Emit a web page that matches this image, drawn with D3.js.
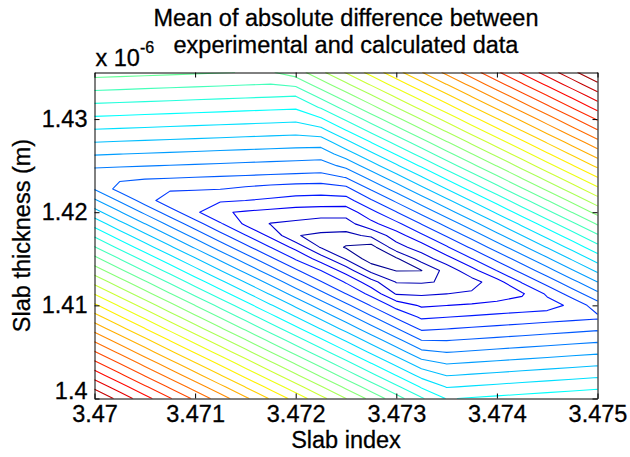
<!DOCTYPE html>
<html>
<head>
<meta charset="utf-8">
<script src="https://cdn.jsdelivr.net/npm/d3@7"></script>
<style>
  html, body { margin: 0; padding: 0; background: #fff; }
  svg { display: block; }
  text { font-family: "Liberation Sans", Arial, Helvetica, sans-serif; fill: #000; }
</style>
</head>
<body>
<svg id="chart" width="630" height="457"></svg>
<script>
// ---- data ----
const titleLines = ["Mean of absolute difference between", "experimental and calculated data"];
const xLabel = "Slab index";
const yLabel = "Slab thickness (m)";

// grid of slab index values (columns)
const xGrid = [3.47, 3.47025, 3.4705, 3.47075, 3.471, 3.47125, 3.4715, 3.47175, 3.472, 3.47225,
               3.4725, 3.47275, 3.473, 3.47325, 3.4735, 3.47375, 3.474, 3.47425, 3.4745, 3.47475, 3.475];
// grid of slab thickness values (rows), in units of 1e-6 m, bottom first
const yGrid = [1.4, 1.40125, 1.4025, 1.40375, 1.405, 1.40625, 1.4075, 1.40875, 1.41, 1.41125,
               1.4125, 1.41375, 1.415, 1.41625, 1.4175, 1.41875, 1.42, 1.42125, 1.4225, 1.42375,
               1.425, 1.42625, 1.4275, 1.42875, 1.43, 1.43125, 1.4325, 1.43375, 1.435];

// mean absolute difference (arbitrary units), one row per thickness value, bottom row first
const zRow00 = [29.97, 28.67, 27.37, 26.08, 24.78, 23.49, 22.19, 20.89, 19.60, 18.30, 17.01, 15.71, 14.41, 13.12, 11.94, 12.08, 12.22, 12.36, 12.50, 12.65, 12.79];
const zRow01 = [28.74, 27.45, 26.15, 24.85, 23.56, 22.26, 20.97, 19.67, 18.37, 17.08, 15.78, 14.49, 13.19, 11.89, 10.94, 11.08, 11.23, 11.37, 11.51, 11.65, 11.79];
const zRow02 = [27.52, 26.22, 24.93, 23.63, 22.33, 21.04, 19.74, 18.45, 17.15, 15.85, 14.56, 13.26, 11.97, 10.67, 9.95, 10.09, 10.23, 10.38, 10.52, 10.66, 10.80];
const zRow03 = [26.29, 25.00, 23.70, 22.41, 21.11, 19.82, 18.52, 17.22, 15.93, 14.63, 13.34, 12.04, 10.74, 9.45, 8.96, 9.10, 9.24, 9.38, 9.52, 9.66, 9.81];
const zRow04 = [25.07, 23.78, 22.48, 21.18, 19.89, 18.59, 17.30, 16.00, 14.70, 13.41, 12.11, 10.81, 9.52, 8.22, 7.96, 8.10, 8.25, 8.39, 8.53, 8.67, 8.81];
const zRow05 = [23.85, 22.55, 21.26, 19.96, 18.66, 17.37, 16.07, 14.78, 13.48, 12.18, 10.89, 9.59, 8.30, 7.00, 6.97, 7.11, 7.25, 7.39, 7.54, 7.68, 7.82];
const zRow06 = [22.62, 21.33, 20.03, 18.74, 17.44, 16.14, 14.85, 13.55, 12.26, 10.96, 9.66, 8.37, 7.07, 5.83, 5.97, 6.12, 6.26, 6.40, 6.54, 6.68, 6.83];
const zRow07 = [21.40, 20.10, 18.81, 17.51, 16.22, 14.92, 13.62, 12.33, 11.03, 9.74, 8.44, 7.14, 5.85, 4.84, 4.98, 5.12, 5.27, 5.41, 5.55, 5.69, 5.83];
const zRow08 = [20.18, 18.88, 17.58, 16.29, 14.99, 13.70, 12.40, 11.10, 9.81, 8.51, 7.22, 5.92, 4.63, 3.85, 3.99, 4.13, 4.27, 4.41, 4.55, 5.25, 6.54];
const zRow09 = [18.95, 17.66, 16.36, 15.06, 13.77, 12.47, 11.18, 9.88, 8.58, 7.29, 5.99, 4.70, 2.90, 2.85, 2.99, 3.14, 3.50, 3.88, 5.17, 6.47, 7.77];
const zRow10 = [17.73, 16.43, 15.14, 13.84, 12.54, 11.25, 9.95, 8.66, 7.36, 6.07, 4.90, 3.40, 1.95, 1.90, 2.10, 2.60, 3.60, 5.10, 6.40, 7.69, 8.99];
const zRow11 = [16.50, 15.21, 13.91, 12.62, 11.32, 10.02, 8.73, 7.43, 6.14, 5.00, 3.54, 1.70, 0.95, 0.98, 2.40, 3.65, 5.03, 6.33, 7.62, 8.92, 10.21];
const zRow12 = [15.28, 13.99, 12.69, 11.39, 10.10, 8.80, 7.51, 6.21, 4.91, 3.55, 1.90, 0.50, 0.85, 2.45, 3.60, 4.96, 6.25, 7.55, 8.85, 10.14, 11.44];
const zRow13 = [14.06, 12.76, 11.46, 10.17, 8.87, 7.58, 6.28, 4.99, 3.69, 1.90, 0.90, 0.60, 2.60, 3.50, 4.89, 6.18, 7.48, 8.77, 10.07, 11.36, 12.66];
const zRow14 = [12.83, 11.54, 10.24, 8.95, 7.65, 6.35, 5.06, 3.76, 2.05, 1.80, 1.70, 2.20, 3.52, 4.81, 6.11, 7.40, 8.70, 10.00, 11.29, 12.59, 13.88];
const zRow15 = [11.61, 10.31, 9.02, 7.72, 6.43, 5.13, 3.83, 2.95, 2.80, 2.60, 2.60, 3.70, 4.74, 6.04, 7.33, 8.63, 9.92, 11.22, 12.52, 13.81, 15.11];
const zRow16 = [10.39, 9.09, 7.80, 6.50, 5.20, 4.10, 3.90, 3.70, 3.50, 3.40, 3.40, 4.70, 5.96, 7.26, 8.56, 9.85, 11.15, 12.44, 13.74, 15.04, 16.33];
const zRow17 = [9.16, 7.87, 6.57, 5.28, 5.20, 5.13, 5.00, 4.85, 4.70, 4.65, 4.60, 5.89, 7.19, 8.49, 9.78, 11.08, 12.37, 13.67, 14.96, 16.26, 17.56];
const zRow18 = [7.94, 6.64, 6.24, 6.17, 6.10, 6.03, 5.80, 5.60, 5.45, 5.40, 5.70, 7.12, 8.41, 9.71, 11.00, 12.30, 13.60, 14.89, 16.19, 17.48, 18.78];
const zRow19 = [7.28, 7.21, 7.14, 7.07, 7.00, 6.93, 6.86, 6.79, 6.72, 6.65, 7.04, 8.34, 9.64, 10.93, 12.23, 13.52, 14.82, 16.12, 17.41, 18.71, 20.00];
const zRow20 = [8.18, 8.11, 8.04, 7.97, 7.90, 7.83, 7.76, 7.69, 7.62, 7.55, 8.27, 9.56, 10.86, 12.15, 13.45, 14.75, 16.04, 17.34, 18.63, 19.93, 21.23];
const zRow21 = [9.09, 9.01, 8.94, 8.87, 8.80, 8.73, 8.66, 8.59, 8.52, 8.45, 9.49, 10.79, 12.08, 13.38, 14.68, 15.97, 17.27, 18.56, 19.86, 21.16, 22.45];
const zRow22 = [9.99, 9.92, 9.85, 9.78, 9.71, 9.64, 9.57, 9.50, 9.43, 9.42, 10.71, 12.01, 13.31, 14.60, 15.90, 17.19, 18.49, 19.79, 21.08, 22.38, 23.67];
const zRow23 = [10.89, 10.82, 10.75, 10.68, 10.61, 10.54, 10.47, 10.40, 10.33, 10.64, 11.94, 13.23, 14.53, 15.83, 17.12, 18.42, 19.71, 21.01, 22.31, 23.60, 24.90];
const zRow24 = [11.79, 11.72, 11.65, 11.58, 11.51, 11.44, 11.37, 11.30, 11.23, 11.87, 13.16, 14.46, 15.75, 17.05, 18.34, 19.64, 20.94, 22.23, 23.53, 24.82, 26.12];
const zRow25 = [12.69, 12.62, 12.55, 12.48, 12.41, 12.34, 12.27, 12.20, 12.13, 13.09, 14.39, 15.68, 16.98, 18.28, 19.57, 20.87, 22.16, 23.46, 24.75, 26.05, 27.35];
const zRow26 = [13.59, 13.52, 13.45, 13.38, 13.31, 13.24, 13.17, 13.10, 13.03, 14.31, 15.61, 16.90, 18.20, 19.50, 20.79, 22.09, 23.38, 24.68, 25.98, 27.27, 28.57];
const zRow27 = [14.49, 14.42, 14.35, 14.28, 14.21, 14.14, 14.07, 14.00, 14.24, 15.54, 16.83, 18.13, 19.43, 20.72, 22.02, 23.31, 24.61, 25.91, 27.20, 28.50, 29.79];
const zRow28 = [15.39, 15.32, 15.25, 15.18, 15.11, 15.04, 14.97, 14.90, 15.46, 16.76, 18.06, 19.35, 20.65, 21.94, 23.24, 24.53, 25.83, 27.13, 28.42, 29.72, 31.01];

// contour levels
const levels = [1, 2, 3, 4, 5, 6, 7, 8, 9, 10, 11, 12, 13, 14, 15, 16, 17, 18, 19, 20,
                21, 22, 23, 24, 25, 26, 27, 28, 29, 30, 31];

// ticks
const xTicks = [3.47, 3.471, 3.472, 3.473, 3.474, 3.475];
const xTickLabels = ["3.47", "3.471", "3.472", "3.473", "3.474", "3.475"];
const yTicks = [1.40, 1.41, 1.42, 1.43];
const yTickLabels = ["1.4", "1.41", "1.42", "1.43"];
const yExponent = "-6";

// ---- drawing ----
(function () {
  const zRows = [zRow00, zRow01, zRow02, zRow03, zRow04, zRow05, zRow06, zRow07, zRow08, zRow09,
                 zRow10, zRow11, zRow12, zRow13, zRow14, zRow15, zRow16, zRow17, zRow18, zRow19,
                 zRow20, zRow21, zRow22, zRow23, zRow24, zRow25, zRow26, zRow27, zRow28];
  const nx = xGrid.length, ny = yGrid.length;
  const values = [].concat(...zRows);
  const zMin = d3.min(values), zMax = d3.max(values);

  const svg = d3.select("#chart");
  const pL = 94.5, pR = 597.5, pT = 72.5, pB = 398.5;
  const fontSize = 23.5;
  const fam = "'Liberation Sans', Arial, Helvetica, sans-serif";

  const x = d3.scaleLinear().domain([3.47, 3.475]).range([pL, pR]);
  const y = d3.scaleLinear().domain([1.4, 1.435]).range([pB, pT]);

  // grid coordinate -> data value (d3.contours puts sample i at i + 0.5)
  const gx = d3.scaleLinear().domain([0.5, nx - 0.5]).range([xGrid[0], xGrid[nx - 1]]);
  const gy = d3.scaleLinear().domain([0.5, ny - 0.5]).range([yGrid[0], yGrid[ny - 1]]);

  function jet(t) {
    t = Math.max(0, Math.min(1, t));
    const c = v => Math.round(255 * Math.max(0, Math.min(1, v)));
    const r = 1.5 - Math.abs(4 * t - 3);
    const g = 1.5 - Math.abs(4 * t - 2);
    const b = 1.5 - Math.abs(4 * t - 1);
    return `rgb(${c(r)},${c(g)},${c(b)})`;
  }
  const colorT = d3.scaleLinear().domain([zMin, zMax]).range([0, 1]);

  svg.append("defs").append("clipPath").attr("id", "plotclip")
    .append("rect").attr("x", pL).attr("y", pT)
    .attr("width", pR - pL).attr("height", pB - pT);

  const contours = d3.contours().size([nx, ny]).thresholds(levels)(values);
  const proj = d3.geoTransform({
    point: function (px, py) { this.stream.point(x(gx(px)), y(gy(py))); }
  });
  const path = d3.geoPath(proj);

  svg.append("g").attr("clip-path", "url(#plotclip)")
    .selectAll("path").data(contours).join("path")
    .attr("d", path)
    .attr("fill", "none")
    .attr("stroke", d => jet(colorT(d.value)))
    .attr("stroke-width", 1.1)
    .attr("stroke-linejoin", "round");

  // axes (ticks inward, MATLAB style)
  const tickLen = 5;
  const axB = svg.append("g").attr("transform", `translate(0,${pB})`)
    .call(d3.axisBottom(x).tickValues(xTicks).tickFormat((d, i) => xTickLabels[i])
          .tickSizeInner(-tickLen).tickSizeOuter(0).tickPadding(7));
  const axT = svg.append("g").attr("transform", `translate(0,${pT})`)
    .call(d3.axisTop(x).tickValues(xTicks).tickFormat("")
          .tickSizeInner(-tickLen).tickSizeOuter(0));
  const axL = svg.append("g").attr("transform", `translate(${pL},0)`)
    .call(d3.axisLeft(y).tickValues(yTicks).tickFormat((d, i) => yTickLabels[i])
          .tickSizeInner(-tickLen).tickSizeOuter(0).tickPadding(7));
  const axR = svg.append("g").attr("transform", `translate(${pR},0)`)
    .call(d3.axisRight(y).tickValues(yTicks).tickFormat("")
          .tickSizeInner(-tickLen).tickSizeOuter(0));

  [axB, axT, axL, axR].forEach(a => {
    a.attr("font-family", fam).attr("font-size", fontSize);
    a.selectAll(".domain").attr("stroke", "#000").attr("stroke-width", 1);
    a.selectAll(".tick line").attr("stroke", "#000").attr("stroke-width", 1);
    a.selectAll("text").attr("fill", "#000").attr("stroke", "#000").attr("stroke-width", 0.3);
  });
  // lift the lowest y label slightly so it does not collide with the first x label
  axL.selectAll(".tick text").filter((d, i) => i === 0).attr("dy", "-0.02em");

  // exponent label
  const expo = svg.append("text").attr("x", pL + 1).attr("y", 66).attr("font-size", fontSize)
    .attr("stroke", "#000").attr("stroke-width", 0.3);
  expo.append("tspan").text("x 10");
  expo.append("tspan").attr("dy", -13).attr("font-size", 16).text(yExponent);

  // title
  const cx = (pL + pR) / 2;
  svg.append("text").attr("x", cx).attr("y", 26).attr("text-anchor", "middle")
    .attr("font-size", fontSize).attr("stroke", "#000").attr("stroke-width", 0.3).text(titleLines[0]);
  svg.append("text").attr("x", cx).attr("y", 53).attr("text-anchor", "middle")
    .attr("font-size", fontSize).attr("stroke", "#000").attr("stroke-width", 0.3).text(titleLines[1]);

  // axis labels
  svg.append("text").attr("x", cx).attr("y", 448).attr("text-anchor", "middle")
    .attr("font-size", fontSize).attr("stroke", "#000").attr("stroke-width", 0.3).text(xLabel);
  svg.append("text")
    .attr("transform", `translate(30,${(pT + pB) / 2}) rotate(-90)`)
    .attr("text-anchor", "middle").attr("font-size", fontSize)
    .attr("stroke", "#000").attr("stroke-width", 0.3).text(yLabel);
})();
</script>
</body>
</html>
